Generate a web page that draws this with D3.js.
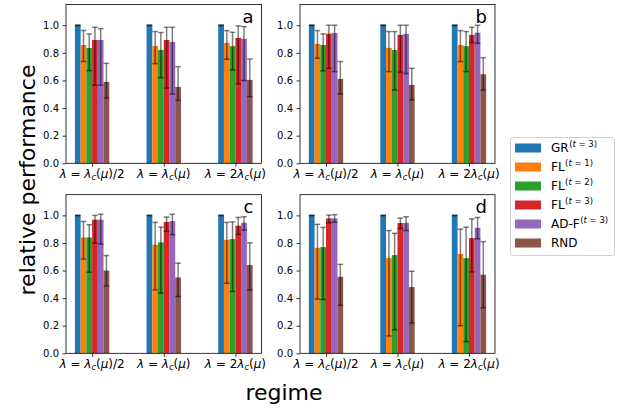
<!DOCTYPE html>
<html><head><meta charset="utf-8">
<script src="https://cdn.jsdelivr.net/npm/d3@7"></script>
<style>body{margin:0;background:#fff}svg{display:block;font-family:"DejaVu Sans",sans-serif}</style>
</head><body><svg id="c" width="628" height="410"></svg>
<script>
// ---------- data ----------
const regimes = ["λ = λ_c(μ)/2", "λ = λ_c(μ)", "λ = 2λ_c(μ)"];
const seriesNames = ["GR", "FL", "FL", "FL", "AD-F", "RND"];
const seriesSup = ["(t = 3)", "(t = 1)", "(t = 2)", "(t = 3)", "(t = 3)", ""];
const colors = ["#1f77b4", "#ff7f0e", "#2ca02c", "#d62728", "#9467bd", "#8c564b"];
const panelLabels = ["a", "b", "c", "d"];
const yTicks = [0.0, 0.2, 0.4, 0.6, 0.8, 1.0];

// rows = series (GR, FL1, FL2, FL3, AD-F, RND), columns = regimes
const meanA = [[1,1,1],[0.857,0.850,0.872],[0.835,0.821,0.848],[0.893,0.893,0.908],[0.893,0.879,0.901],[0.589,0.553,0.604]];
const lowA  = [[0.998,0.998,0.998],[0.737,0.722,0.754],[0.671,0.620,0.676],[0.565,0.545,0.575],[0.565,0.502,0.599],[0.473,0.456,0.483]];
const highA = [[1.002,1.002,1.002],[0.962,0.954,0.961],[0.937,0.947,0.949],[0.985,0.985,0.995],[0.975,0.985,0.990],[0.724,0.700,0.755]];

const meanB = [[1,1,1],[0.865,0.836,0.857],[0.857,0.821,0.848],[0.938,0.930,0.930],[0.944,0.937,0.946],[0.611,0.568,0.645]];
const lowB  = [[0.998,0.998,0.998],[0.761,0.664,0.737],[0.669,0.531,0.664],[0.688,0.660,0.875],[0.664,0.650,0.869],[0.502,0.459,0.530]];
const highB = [[1.002,1.002,1.002],[0.961,0.954,0.961],[0.937,0.954,0.954],[1.000,1.000,0.985],[1.000,1.000,1.000],[0.737,0.688,0.765]];

const meanC = [[1,1,1],[0.840,0.787,0.823],[0.840,0.804,0.828],[0.969,0.952,0.925],[0.969,0.959,0.947],[0.600,0.550,0.640]];
const lowC  = [[0.998,0.998,0.998],[0.683,0.460,0.508],[0.588,0.436,0.448],[0.799,0.884,0.862],[0.792,0.860,0.893],[0.487,0.412,0.459]];
const highC = [[1.002,1.002,1.002],[0.956,0.949,0.949],[0.932,0.915,0.952],[1.000,0.988,0.985],[1.008,1.008,0.990],[0.709,0.654,0.801]];

const meanD = [[1,1,1],[0.765,0.690,0.720],[0.770,0.712,0.690],[0.978,0.945,0.835],[0.978,0.945,0.910],[0.555,0.480,0.570]];
const lowD  = [[0.998,0.998,0.998],[0.393,0.125,0.200],[0.390,0.170,0.085],[0.946,0.905,0.590],[0.950,0.890,0.830],[0.348,0.220,0.330]];
const highD = [[1.002,1.002,1.002],[0.935,0.890,0.900],[0.913,0.870,0.915],[1.002,0.980,0.975],[1.005,0.990,0.985],[0.645,0.595,0.810]];

const panels = [
  {label: panelLabels[0], mean: meanA, low: lowA, high: highA},
  {label: panelLabels[1], mean: meanB, low: lowB, high: highB},
  {label: panelLabels[2], mean: meanC, low: lowC, high: highC},
  {label: panelLabels[3], mean: meanD, low: lowD, high: highD}
];

// ---------- layout ----------
const svg = d3.select("#c");
const boxes = [
  {x0: 66, x1: 261.5, y0: 4.5, y1: 163.3},
  {x0: 300, x1: 495, y0: 4.5, y1: 163.3},
  {x0: 66, x1: 261.5, y0: 194.7, y1: 353.3},
  {x0: 300, x1: 495, y0: 194.7, y1: 353.3}
];
const barW = 0.08;

function mathText(sel, s, fs) {
  // letters italic, "_x" subscript
  let i = 0, pend = 0;
  while (i < s.length) {
    const ch = s[i];
    if (ch === "_") {
      const c = s[i + 1];
      sel.append("tspan").attr("dy", fs * 0.22 + pend).attr("font-size", fs * 0.7)
        .attr("font-style", "italic").text(c);
      pend = -fs * 0.22;
      i += 2; continue;
    }
    const it = /[a-zA-Zλμ]/.test(ch);
    const ts = sel.append("tspan").attr("font-style", it ? "italic" : "normal").text(ch);
    if (pend) { ts.attr("dy", pend); pend = 0; }
    i++;
  }
}

panels.forEach((p, k) => {
  const b = boxes[k];
  const g = svg.append("g");
  const x = d3.scaleLinear().domain([-0.364, 2.364]).range([b.x0, b.x1]);
  const y = d3.scaleLinear().domain([0, 1.15]).range([b.y1, b.y0]);

  // bars
  p.mean.forEach((row, si) => {
    row.forEach((v, ri) => {
      const xl = x(ri + (si - 3) * barW), xr = x(ri + (si - 2) * barW);
      g.append("rect").attr("x", xl).attr("width", xr - xl)
        .attr("y", y(v)).attr("height", y(0) - y(v)).attr("fill", colors[si]);
    });
  });
  // error bars
  p.mean.forEach((row, si) => {
    row.forEach((v, ri) => {
      const cx = x(ri + (si - 2.5) * barW);
      const lo = p.low[si][ri], hi = p.high[si][ri];
      const eg = g.append("g").attr("stroke", "#000").attr("stroke-opacity", 0.5).attr("stroke-width", 1.5);
      eg.append("line").attr("x1", cx).attr("x2", cx).attr("y1", y(lo)).attr("y2", y(hi));
      eg.append("line").attr("x1", cx - 2.8).attr("x2", cx + 2.8).attr("y1", y(lo)).attr("y2", y(lo));
      eg.append("line").attr("x1", cx - 2.8).attr("x2", cx + 2.8).attr("y1", y(hi)).attr("y2", y(hi));
    });
  });

  // frame
  g.append("rect").attr("x", b.x0).attr("y", b.y0).attr("width", b.x1 - b.x0).attr("height", b.y1 - b.y0)
    .attr("fill", "none").attr("stroke", "#000").attr("stroke-width", 0.8);

  // y axis
  const ya = d3.axisLeft(y).tickValues(yTicks).tickFormat(d3.format(".1f")).tickSize(3.5).tickPadding(3.5);
  const yg = g.append("g").attr("transform", `translate(${b.x0},0)`).call(ya);
  yg.select(".domain").remove();
  yg.selectAll("line").attr("stroke-width", 0.8);
  yg.selectAll("text").attr("font-size", 10).attr("font-family", "DejaVu Sans").attr("fill", "#000");

  // x axis
  const xa = d3.axisBottom(x).tickValues([0, 1, 2]).tickFormat("").tickSize(3.5);
  const xg = g.append("g").attr("transform", `translate(0,${b.y1})`).call(xa);
  xg.select(".domain").remove();
  xg.selectAll("line").attr("stroke-width", 0.8);
  regimes.forEach((r, ri) => {
    const t = g.append("text").attr("x", x(ri)).attr("y", b.y1 + 14.4)
      .attr("text-anchor", "middle").attr("font-size", 12).attr("fill", "#000");
    mathText(t, r, 12);
  });

  // panel label
  g.append("text").attr("x", b.x1 - 8).attr("y", b.y0 + 18.5).attr("text-anchor", "end")
    .attr("font-size", 18).attr("fill", "#000").text(p.label);
});

// axis titles
svg.append("text").attr("transform", "translate(35,180) rotate(-90)").attr("text-anchor", "middle")
  .attr("font-size", 22).attr("fill", "#000").text("relative performance");
svg.append("text").attr("x", 284).attr("y", 400).attr("text-anchor", "middle")
  .attr("font-size", 22).attr("fill", "#000").text("regime");

// legend
const lg = svg.append("g");
lg.append("rect").attr("x", 510.5).attr("y", 137.5).attr("width", 104).attr("height", 118).attr("rx", 3)
  .attr("fill", "#fff").attr("stroke", "#d0d0d0").attr("stroke-width", 1);
seriesNames.forEach((n, i) => {
  const cy = 148 + i * 19;
  lg.append("rect").attr("x", 515).attr("y", cy - 4.5).attr("width", 26).attr("height", 9).attr("fill", colors[i]);
  const t = lg.append("text").attr("x", 551).attr("y", cy + 4.4).attr("font-size", 12).attr("fill", "#000");
  t.append("tspan").text(n);
  if (seriesSup[i]) {
    let first = true;
    for (const ch of seriesSup[i]) {
      const ts = t.append("tspan").attr("font-size", 8.5)
        .attr("font-style", /[a-z]/.test(ch) ? "italic" : "normal").text(ch);
      if (first) { ts.attr("dx", 0.5).attr("dy", -5); first = false; }
    }
  }
});
</script></body></html>
